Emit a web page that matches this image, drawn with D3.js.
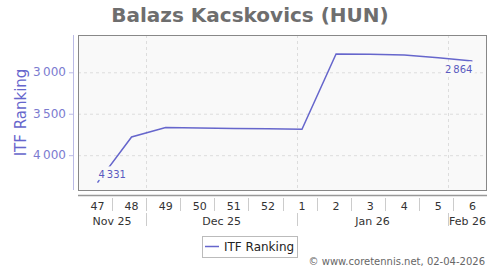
<!DOCTYPE html>
<html>
<head>
<meta charset="utf-8">
<script src="https://cdn.jsdelivr.net/npm/d3@7"></script>
<style>
  body { margin: 0; background: #fff; }
  svg { font-family: "DejaVu Sans", sans-serif; display: block; }
</style>
</head>
<body>
<div class="canvas"></div>
<script>
// chart data
const weekLabels = ['47', '48', '49', '50', '51', '52', '1', '2', '3', '4', '5', '6'];
const weekStarts = ['2025-11-17', '2025-11-24', '2025-12-01', '2025-12-08', '2025-12-15', '2025-12-22',
  '2025-12-29', '2026-01-05', '2026-01-12', '2026-01-19', '2026-01-26', '2026-02-02'];
const ranking = [4331, 3780, 3667, 3672, 3677, 3682, 3687, 2780, 2783, 2792, 2825, 2864];
const monthLabels = ['Nov 25', 'Dec 25', 'Jan 26', 'Feb 26'];
const monthStarts = ['2025-11-01', '2025-12-01', '2026-01-01', '2026-02-01'];
const yTicks = [3000, 3500, 4000];

const parse = d3.timeParse('%Y-%m-%d');
const day = 864e5;
const starts = weekStarts.map(parse);
const mid = d => new Date(+d + 4 * day);

const svg = d3.select('.canvas')
  .append('svg')
    .attr('width', 500)
    .attr('height', 270);

// plot box
const margin = {top: 35, left: 78, right: 13, bottom: 80};
const w = 500 - margin.left - margin.right;
const h = 270 - margin.top - margin.bottom;

const x = d3.scaleTime()
  .domain([starts[0], new Date(+starts[starts.length - 1] + 7 * day)])
  .range([0, w]);
const y = d3.scaleLinear()
  .domain([2550, 4420])
  .range([0, h]);

// title
svg.append('text')
  .attr('x', 250).attr('y', 22)
  .attr('text-anchor', 'middle')
  .attr('font-size', 20).attr('font-weight', 'bold')
  .attr('fill', '#6e6e6e')
  .text('Balazs Kacskovics (HUN)');

const graph = svg.append('g')
  .attr('transform', `translate(${margin.left}, ${margin.top})`);

graph.append('rect')
  .attr('width', w).attr('height', h)
  .attr('fill', '#f9f9f9');

// grid lines
const months = monthStarts.map(parse);
graph.selectAll('.hgrid').data(yTicks).enter().append('line')
  .attr('x1', 0).attr('x2', w)
  .attr('y1', d => y(d) + 0.5).attr('y2', d => y(d) + 0.5)
  .attr('stroke', '#ddd').attr('stroke-dasharray', '3,3');
graph.selectAll('.vgrid').data(months.slice(1)).enter().append('line')
  .attr('x1', d => Math.round(x(d)) + 0.5).attr('x2', d => Math.round(x(d)) + 0.5)
  .attr('y1', 0).attr('y2', h)
  .attr('stroke', '#ddd').attr('stroke-dasharray', '3,3');

graph.append('rect')
  .attr('x', 0.5).attr('y', 0.5)
  .attr('width', w - 1).attr('height', h)
  .attr('fill', 'none').attr('stroke', '#888');

// the line
const line = d3.line()
  .x((d, i) => x(mid(starts[i])))
  .y(d => y(d));
graph.append('path')
  .datum(ranking)
  .attr('d', line)
  .attr('fill', 'none')
  .attr('stroke', '#6666cc')
  .attr('stroke-width', 1.5);

// point labels (first & last), with a halo that hides the line
const fmt = v => d3.format(',')(v).replace(',', '\u2009');
const last = ranking.length - 1;
const pointLabels = [
  {i: 0, anchor: 'start', dx: 1, dy: -5},
  {i: last, anchor: 'end', dx: 0, dy: 12}
];
graph.selectAll('.plabel').data(pointLabels).enter().append('text')
  .attr('x', d => x(mid(starts[d.i])) + d.dx)
  .attr('y', d => y(ranking[d.i]) + d.dy)
  .attr('text-anchor', d => d.anchor)
  .attr('font-size', 10)
  .attr('fill', '#5a5ac0')
  .attr('stroke', '#f9f9f9')
  .attr('stroke-width', 7)
  .attr('stroke-linejoin', 'round')
  .attr('paint-order', 'stroke')
  .text(d => fmt(ranking[d.i]));

// y axis (left, separate from the box)
const yAxisGroup = svg.append('g')
  .attr('transform', `translate(${margin.left - 5}, ${margin.top})`);
yAxisGroup.append('line')
  .attr('x1', 0.5).attr('x2', 0.5).attr('y1', 0).attr('y2', h)
  .attr('stroke', '#bbbbe6');
yAxisGroup.selectAll('.yt').data(yTicks).enter().append('line')
  .attr('x1', -4).attr('x2', 0)
  .attr('y1', d => y(d) + 0.5).attr('y2', d => y(d) + 0.5)
  .attr('stroke', '#bbbbe6');
yAxisGroup.selectAll('.yl').data(yTicks).enter().append('text')
  .attr('x', -7).attr('y', d => y(d) + 4)
  .attr('text-anchor', 'end')
  .attr('font-size', 12)
  .attr('fill', '#7b7bd0')
  .text(d => fmt(d));
svg.append('text')
  .attr('transform', `translate(26, ${margin.top + h / 2}) rotate(-90)`)
  .attr('text-anchor', 'middle')
  .attr('font-size', 15)
  .attr('fill', '#6666cc')
  .text('ITF Ranking');

// x axis
const xAxisGroup = svg.append('g')
  .attr('transform', `translate(${margin.left}, ${margin.top + h + 5})`);
xAxisGroup.append('line')
  .attr('x1', 0).attr('x2', w).attr('y1', 0.5).attr('y2', 0.5)
  .attr('stroke', '#999').attr('stroke-width', 1.5);
xAxisGroup.selectAll('.wsep').data(starts.slice(1)).enter().append('line')
  .attr('x1', d => Math.round(x(d)) + 0.5).attr('x2', d => Math.round(x(d)) + 0.5)
  .attr('y1', 3).attr('y2', 16)
  .attr('stroke', '#ccc');
xAxisGroup.selectAll('.wl').data(weekLabels).enter().append('text')
  .attr('x', (d, i) => x(mid(starts[i])))
  .attr('y', 15)
  .attr('text-anchor', 'middle')
  .attr('font-size', 11)
  .attr('fill', '#333')
  .text(d => d);
const dom = x.domain();
xAxisGroup.selectAll('.msep').data(months.slice(1)).enter().append('line')
  .attr('x1', d => Math.round(x(d)) + 0.5).attr('x2', d => Math.round(x(d)) + 0.5)
  .attr('y1', 18).attr('y2', 31)
  .attr('stroke', '#ccc');
xAxisGroup.selectAll('.ml').data(monthLabels).enter().append('text')
  .attr('x', (d, i) => {
    const a = d3.max([months[i], dom[0]]);
    const b = i < months.length - 1 ? d3.min([months[i + 1], dom[1]]) : dom[1];
    return (x(a) + x(b)) / 2;
  })
  .attr('y', 30)
  .attr('text-anchor', 'middle')
  .attr('font-size', 11)
  .attr('fill', '#333')
  .text(d => d);

// legend
const legend = svg.append('g').attr('transform', 'translate(202, 236)');
legend.append('rect')
  .attr('x', 0.5).attr('y', 0.5).attr('width', 95).attr('height', 21)
  .attr('fill', '#fff').attr('stroke', '#bbb');
legend.append('line')
  .attr('x1', 3).attr('x2', 17).attr('y1', 10.5).attr('y2', 10.5)
  .attr('stroke', '#6666cc').attr('stroke-width', 1.5);
legend.append('text')
  .attr('x', 22).attr('y', 15)
  .attr('font-size', 12).attr('fill', '#222')
  .text('ITF Ranking');

// footer
svg.append('text')
  .attr('x', 485).attr('y', 265)
  .attr('text-anchor', 'end')
  .attr('font-size', 10).attr('fill', '#666')
  .text('\u00a9 www.coretennis.net, 02-04-2026');
</script>
</body>
</html>
